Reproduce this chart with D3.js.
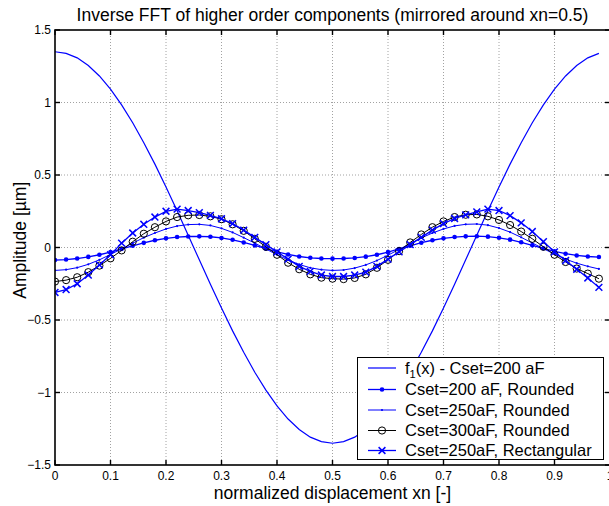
<!DOCTYPE html>
<html lang="en">
<head>
<meta charset="utf-8">
<script src="https://cdn.jsdelivr.net/npm/d3@7"></script>
<title>Inverse FFT of higher order components</title>
<style>
  body { margin: 0; background: #fff; }
  text { font-family: "Liberation Sans", Arial, sans-serif; fill: #000; }
</style>
</head>
<body>
<svg width="609" height="506"></svg>
<script>
// sample positions (normalized displacement)
var xn = [0,0.02,0.04,0.06,0.08,0.10,0.12,0.14,0.16,0.18,0.20,0.22,0.24,0.26,0.28,0.30,0.32,0.34,0.36,0.38,0.40,0.42,0.44,0.46,0.48,
          0.50,0.52,0.54,0.56,0.58,0.60,0.62,0.64,0.66,0.68,0.70,0.72,0.74,0.76,0.78,0.80,0.82,0.84,0.86,0.88,0.90,0.92,0.94,0.96,0.98];

var f1 = [1.35,1.339,1.308,1.255,1.183,1.092,0.984,0.860,0.723,0.575,0.417,0.253,0.085,-0.085,-0.253,-0.417,-0.575,-0.723,-0.860,-0.984,-1.092,-1.183,-1.255,-1.308,-1.339,
          -1.35,-1.339,-1.308,-1.255,-1.183,-1.092,-0.984,-0.860,-0.723,-0.575,-0.417,-0.253,-0.085,0.085,0.253,0.417,0.575,0.723,0.860,0.984,1.092,1.183,1.255,1.308,1.339];

var c200r = [-0.087,-0.083,-0.076,-0.065,-0.050,-0.032,-0.010,0.012,0.032,0.050,0.063,0.072,0.076,0.077,0.074,0.066,0.053,0.035,0.014,-0.008,-0.030,-0.048,-0.062,-0.071,-0.076,
             -0.077,-0.076,-0.072,-0.063,-0.050,-0.032,-0.010,0.012,0.033,0.050,0.063,0.072,0.077,0.078,0.075,0.067,0.054,0.036,0.015,-0.006,-0.026,-0.043,-0.055,-0.062,-0.066];

var c250r = [-0.158,-0.153,-0.139,-0.116,-0.085,-0.048,-0.009,0.030,0.068,0.100,0.128,0.148,0.158,0.160,0.152,0.132,0.104,0.068,0.030,-0.010,-0.050,-0.086,-0.117,-0.140,-0.153,
             -0.158,-0.155,-0.142,-0.120,-0.090,-0.053,-0.013,0.027,0.066,0.100,0.128,0.149,0.160,0.162,0.154,0.134,0.106,0.070,0.031,-0.008,-0.046,-0.080,-0.108,-0.130,-0.148];

var c300r = [-0.235,-0.225,-0.205,-0.170,-0.125,-0.075,-0.020,0.040,0.095,0.140,0.180,0.210,0.222,0.224,0.215,0.195,0.160,0.115,0.060,0.005,-0.050,-0.105,-0.150,-0.185,-0.208,
             -0.215,-0.218,-0.210,-0.185,-0.140,-0.085,-0.025,0.035,0.090,0.140,0.180,0.210,0.226,0.228,0.215,0.190,0.155,0.110,0.060,0.005,-0.050,-0.100,-0.145,-0.180,-0.215];

var c250rect = [-0.310,-0.290,-0.250,-0.190,-0.120,-0.050,0.030,0.100,0.160,0.210,0.250,0.265,0.255,0.240,0.222,0.198,0.165,0.120,0.070,0.020,-0.030,-0.080,-0.130,-0.165,-0.190,
                -0.200,-0.200,-0.190,-0.170,-0.130,-0.080,-0.030,0.020,0.070,0.120,0.165,0.200,0.225,0.245,0.265,0.255,0.220,0.170,0.110,0.040,-0.030,-0.090,-0.150,-0.210,-0.275];

var xTicks = [0,0.1,0.2,0.3,0.4,0.5,0.6,0.7,0.8,0.9,1];
var yTicks = [-1.5,-1,-0.5,0,0.5,1,1.5];

var legendLabels = ["f(x) - Cset=200 aF", "Cset=200 aF, Rounded", "Cset=250aF, Rounded", "Cset=300aF, Rounded", "Cset=250aF, Rectangular"];

var pL = 55, pR = 610, pT = 30, pB = 465;

var svg = d3.select("svg");

var x = d3.scaleLinear().domain([0, 1]).range([pL, pR]);
var y = d3.scaleLinear().domain([-1.5, 1.5]).range([pB, pT]);

// grid
var grid = svg.append("g").attr("stroke", "#8a8a8a").attr("stroke-width", 0.8).attr("stroke-dasharray", "1,2");
grid.selectAll(".gx").data(xTicks.slice(1, -1)).enter().append("line")
  .attr("x1", d => x(d)).attr("x2", d => x(d)).attr("y1", pT).attr("y2", pB);
grid.selectAll(".gy").data(yTicks.slice(1, -1)).enter().append("line")
  .attr("y1", d => y(d)).attr("y2", d => y(d)).attr("x1", pL).attr("x2", pR);

svg.append("clipPath").attr("id", "clip").append("rect")
  .attr("x", pL).attr("y", pT).attr("width", pR - pL).attr("height", pB - pT);

var plot = svg.append("g").attr("clip-path", "url(#clip)");

var line = d3.line().x(d => x(d[0])).y(d => y(d[1]));
function pts(arr) { return xn.map((v, i) => [v, arr[i]]); }

var blue = "#0000ff";

var series = [
  { vals: f1, color: blue, width: 1.2, marker: "none" },
  { vals: c200r, color: blue, width: 1.3, marker: "dot" },
  { vals: c250r, color: blue, width: 1.0, marker: "point" },
  { vals: c300r, color: "#000", width: 1.0, marker: "circle" },
  { vals: c250rect, color: blue, width: 1.3, marker: "x" }
];

function drawMarker(g, type, color, cx, cy) {
  if (type === "dot") {
    g.append("circle").attr("cx", cx).attr("cy", cy).attr("r", 2.3).attr("fill", color);
  } else if (type === "point") {
    g.append("circle").attr("cx", cx).attr("cy", cy).attr("r", 1.1).attr("fill", color);
  } else if (type === "circle") {
    g.append("circle").attr("cx", cx).attr("cy", cy).attr("r", 3.6)
      .attr("fill", "none").attr("stroke", color).attr("stroke-width", 1);
  } else if (type === "x") {
    var s = 3.4;
    g.append("path").attr("d", "M" + (cx - s) + "," + (cy - s) + "L" + (cx + s) + "," + (cy + s) +
        "M" + (cx - s) + "," + (cy + s) + "L" + (cx + s) + "," + (cy - s))
      .attr("stroke", color).attr("stroke-width", 1.5).attr("fill", "none");
  }
}

series.forEach(function(s) {
  var p = pts(s.vals);
  plot.append("path").datum(p).attr("d", line)
    .attr("fill", "none").attr("stroke", s.color).attr("stroke-width", s.width);
  if (s.marker !== "none") {
    var g = plot.append("g");
    p.forEach(function(d) { drawMarker(g, s.marker, s.color, x(d[0]), y(d[1])); });
  }
});

// axes box
svg.append("rect").attr("x", pL).attr("y", pT).attr("width", pR - pL).attr("height", pB - pT)
  .attr("fill", "none").attr("stroke", "#000").attr("stroke-width", 1.6);

// inward ticks
var tl = 5;
var ticks = svg.append("g").attr("stroke", "#000").attr("stroke-width", 1.4);
xTicks.forEach(function(t) {
  ticks.append("line").attr("x1", x(t)).attr("x2", x(t)).attr("y1", pB).attr("y2", pB - tl);
  ticks.append("line").attr("x1", x(t)).attr("x2", x(t)).attr("y1", pT).attr("y2", pT + tl);
});
yTicks.forEach(function(t) {
  ticks.append("line").attr("x1", pL).attr("x2", pL + tl).attr("y1", y(t)).attr("y2", y(t));
  ticks.append("line").attr("x1", pR).attr("x2", pR - tl).attr("y1", y(t)).attr("y2", y(t));
});

// tick labels
svg.append("g").selectAll("text").data(xTicks).enter().append("text")
  .attr("x", d => x(d)).attr("y", pB + 15).attr("text-anchor", "middle")
  .attr("font-size", 12).text(d => d3.format("")(d));
svg.append("g").selectAll("text").data(yTicks).enter().append("text")
  .attr("x", pL - 4).attr("y", d => y(d) + 4).attr("text-anchor", "end")
  .attr("font-size", 12).text(d => d3.format("")(d));

// titles
svg.append("text").attr("x", (pL + pR) / 2).attr("y", 21).attr("text-anchor", "middle")
  .attr("font-size", 17.5).text("Inverse FFT of higher order components (mirrored around xn=0.5)");
svg.append("text").attr("x", (pL + pR) / 2).attr("y", 499).attr("text-anchor", "middle")
  .attr("font-size", 17.5).text("normalized displacement xn [-]");
svg.append("text").attr("transform", "translate(26," + y(0.05) + ") rotate(-90)").attr("text-anchor", "middle")
  .attr("font-size", 17.5).text("Amplitude [\u00b5m]");

// legend
var lg = svg.append("g");
lg.append("rect").attr("x", 357.5).attr("y", 357.5).attr("width", 246).attr("height", 102)
  .attr("fill", "#fff").attr("stroke", "#000").attr("stroke-width", 1);
var lys = [368, 389.5, 410, 430.5, 450.5];
series.forEach(function(s, i) {
  var yy = lys[i];
  lg.append("line").attr("x1", 368).attr("x2", 396).attr("y1", yy).attr("y2", yy)
    .attr("stroke", s.color).attr("stroke-width", s.width);
  if (s.marker !== "none") drawMarker(lg, s.marker, s.color, 382, yy);
  var t = lg.append("text").attr("x", 405).attr("y", yy + 5.8).attr("font-size", 16.5);
  if (i === 0) {
    t.append("tspan").text("f");
    t.append("tspan").attr("font-size", 11).attr("dy", 4).text("1");
    t.append("tspan").attr("dy", -4).text("(x) - Cset=200 aF");
  } else {
    t.text(legendLabels[i]);
  }
});
</script>
</body>
</html>
